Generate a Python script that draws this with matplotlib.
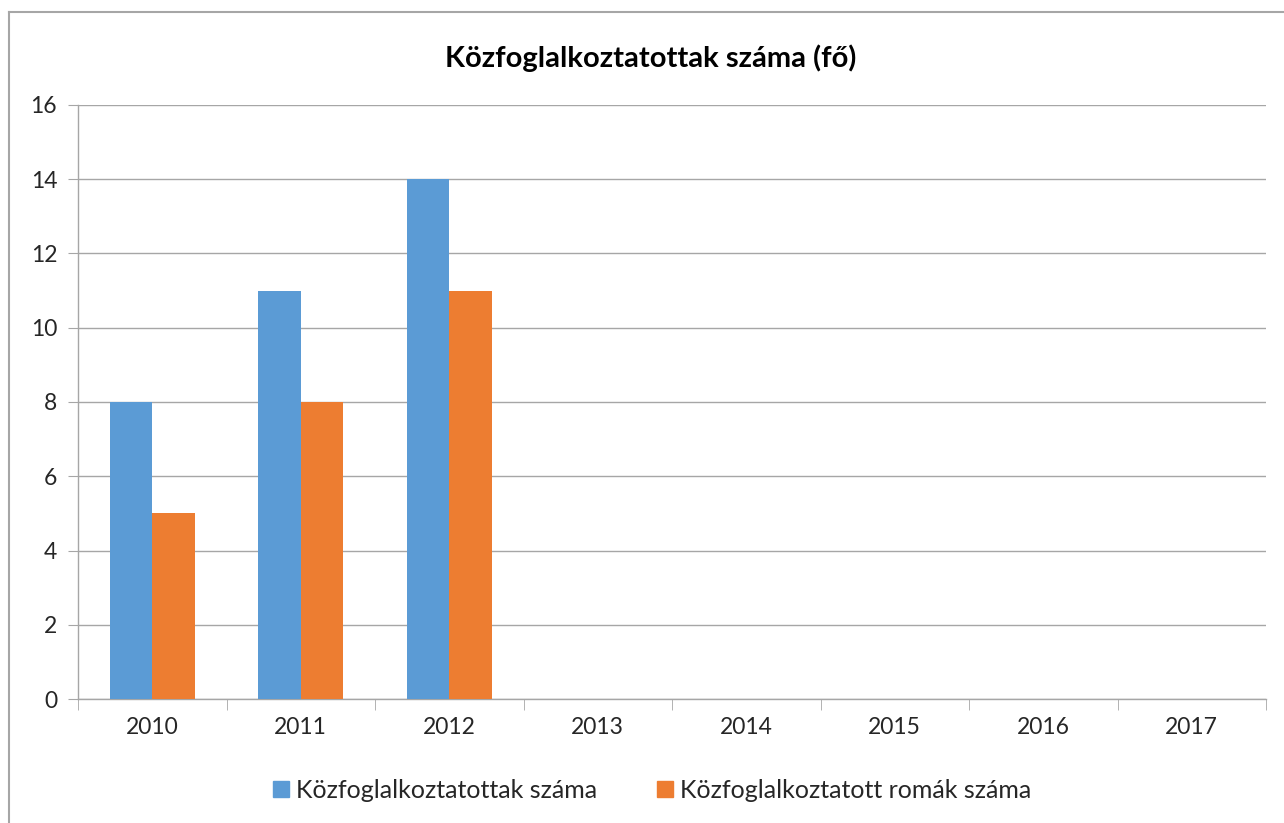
import matplotlib.pyplot as plt
import numpy as np
from matplotlib.lines import Line2D

years = ["2010", "2011", "2012", "2013", "2014", "2015", "2016", "2017"]
osszes = [8, 11, 14, 0, 0, 0, 0, 0]
romak = [5, 8, 11, 0, 0, 0, 0, 0]
series_names = ["Közfoglalkoztatottak száma", "Közfoglalkoztatott romák száma"]
colors = ["#5B9BD5", "#ED7D31"]

plt.rcParams['font.family'] = ['Lato', 'DejaVu Sans']

W, H = 1284, 823
fig = plt.figure(figsize=(W / 100, H / 100), dpi=100)
ax = fig.add_axes([78 / W, 1 - 699 / H, (1266 - 78) / W, (699 - 105) / H])

x = np.arange(len(years))
bw = 0.285
ax.bar(x - bw / 2, osszes, bw, color=colors[0], label=series_names[0], zorder=3)
ax.bar(x + bw / 2, romak, bw, color=colors[1], label=series_names[1], zorder=3)

ax.set_xlim(-0.5, len(years) - 0.5)
ax.set_ylim(0, 16)
ax.set_yticks(range(0, 17, 2))
ax.set_xticks(x)
ax.set_xticklabels(years)
ax.set_xticks(np.arange(-0.5, len(years), 1), minor=True)
ax.yaxis.grid(True, color="#A6A6A6", linewidth=1, zorder=0)
ax.set_axisbelow(True)

for s in ["top", "right"]:
    ax.spines[s].set_visible(False)
for s in ["left", "bottom"]:
    ax.spines[s].set_color("#A6A6A6")
    ax.spines[s].set_linewidth(1)

ax.tick_params(axis="y", length=7, color="#A6A6A6", labelsize=16.5, labelcolor="#262626", pad=8)
ax.tick_params(axis="x", which="major", length=0, labelsize=16.5, labelcolor="#262626", pad=13)
ax.tick_params(axis="x", which="minor", length=8, color="#A6A6A6")

fig.text(651 / W, 1 - 58 / H, "Közfoglalkoztatottak száma (fő)", ha="center", va="center",
         fontsize=21, fontweight="bold", color="#000000")

handles = [Line2D([0], [0], marker="s", linestyle="none", markersize=11,
                  markerfacecolor=c, markeredgecolor=c) for c in colors]
fig.legend(handles, series_names, loc="center", bbox_to_anchor=(650 / W, 1 - 790 / H),
           ncol=2, frameon=False, fontsize=18, handletextpad=0.1, columnspacing=2.2,
           handlelength=1.0, labelcolor="#262626")

# partial chart border (left and top visible)
fig.add_artist(Line2D([9 / W, 9 / W], [0, 1 - 12 / H], color="#A6A6A6", linewidth=1.5))
fig.add_artist(Line2D([9 / W, 1], [1 - 12 / H, 1 - 12 / H], color="#A6A6A6", linewidth=1.5))

fig.savefig("out.png", dpi=100)
